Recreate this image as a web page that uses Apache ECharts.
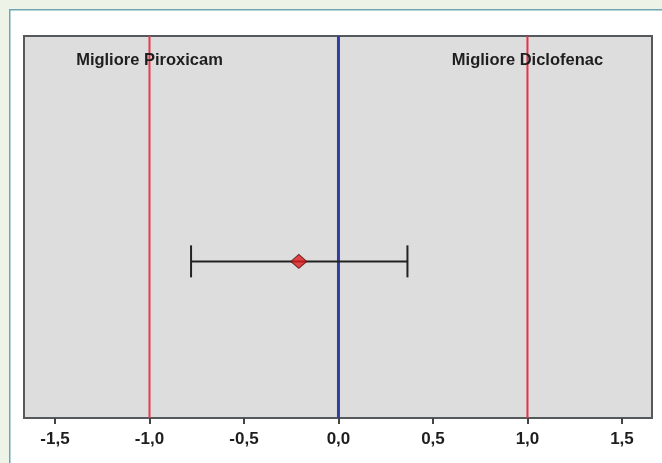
<!DOCTYPE html>
<html><head><meta charset="utf-8">
<script src="https://cdn.jsdelivr.net/npm/echarts@6/dist/echarts.min.js"></script>
<style>html,body{margin:0;padding:0;}#c{width:662px;height:463px;}</style>
</head><body><div id="c"></div>
<script>
var tickValues = [-1.5, -1.0, -0.5, 0.0, 0.5, 1.0, 1.5];
var refLines = [
  {x: -1.0, color: '#e8394d', width: 2},
  {x: 0.0, color: '#2f3ea6', width: 3},
  {x: 1.0, color: '#e8304a', width: 2}
];
var regionLabels = [
  {x: -1.0, y: 0.937, text: 'Migliore Piroxicam'},
  {x: 1.0, y: 0.937, text: 'Migliore Diclofenac'}
];
var estimate = {value: -0.21, low: -0.78, high: 0.365, y: 0.41};

var FONT = '"Liberation Sans", Arial, sans-serif';
var chart = echarts.init(document.getElementById('c'), null, {renderer: 'canvas'});
var series = [];
refLines.forEach(function (l) {
  series.push({
    type: 'line', data: [[l.x, 0], [l.x, 1]], symbol: 'none', silent: true,
    lineStyle: {color: l.color, width: l.width}, z: 2
  });
});
series.push({
  type: 'custom', z: 3, silent: true,
  data: [[estimate.low, estimate.high, estimate.y]],
  renderItem: function (params, api) {
    var p1 = api.coord([api.value(0), api.value(2)]);
    var p2 = api.coord([api.value(1), api.value(2)]);
    var h = 16;
    var st = {stroke: '#222222', lineWidth: 2};
    return {type: 'group', children: [
      {type: 'line', shape: {x1: p1[0], y1: p1[1], x2: p2[0], y2: p2[1]}, style: st},
      {type: 'line', shape: {x1: p1[0], y1: p1[1] - h, x2: p1[0], y2: p1[1] + h}, style: st},
      {type: 'line', shape: {x1: p2[0], y1: p2[1] - h, x2: p2[0], y2: p2[1] + h}, style: st}
    ]};
  }
});
series.push({
  type: 'scatter', z: 5, symbol: 'diamond', symbolSize: [16, 14],
  data: [[estimate.value, estimate.y]],
  itemStyle: {color: '#e01b1f', borderColor: '#5a1010', borderWidth: 1}
});
series.push({
  type: 'custom', z: 6, silent: true,
  data: regionLabels.map(function (r) { return [r.x, r.y, r.text]; }),
  renderItem: function (params, api) {
    var p = api.coord([api.value(0), api.value(1)]);
    return {type: 'text', x: p[0], y: p[1], style: {
      text: regionLabels[params.dataIndex].text, align: 'center', verticalAlign: 'middle',
      fill: '#1e1e1e', font: 'bold 16.5px ' + FONT
    }};
  }
});

chart.setOption({
  backgroundColor: '#eef3e7',
  animation: false,
  graphic: [{
    type: 'rect', left: 9, top: 9, z: -10, silent: true,
    shape: {width: 670, height: 470},
    style: {fill: '#ffffff', stroke: '#6aa7b0', lineWidth: 1.5}
  }],
  grid: {left: 24, right: 10, top: 36, bottom: 45, show: true,
    backgroundColor: '#dcdddc', borderColor: '#55595c', borderWidth: 2},
  xAxis: {
    type: 'value', min: -1.664, max: 1.659,
    axisLine: {show: true, onZero: false, lineStyle: {color: '#55595c', width: 2}},
    axisTick: {show: true, length: 6, customValues: tickValues, lineStyle: {color: '#444', width: 2}},
    axisLabel: {show: true, customValues: tickValues, margin: 13, color: '#1e1e1e',
      fontFamily: FONT, fontWeight: 'bold', fontSize: 17,
      formatter: function (v) { return v.toFixed(1).replace('.', ','); }},
    splitLine: {show: false}
  },
  yAxis: {type: 'value', min: 0, max: 1, show: false, splitLine: {show: false}},
  series: series
});
</script></body></html>
